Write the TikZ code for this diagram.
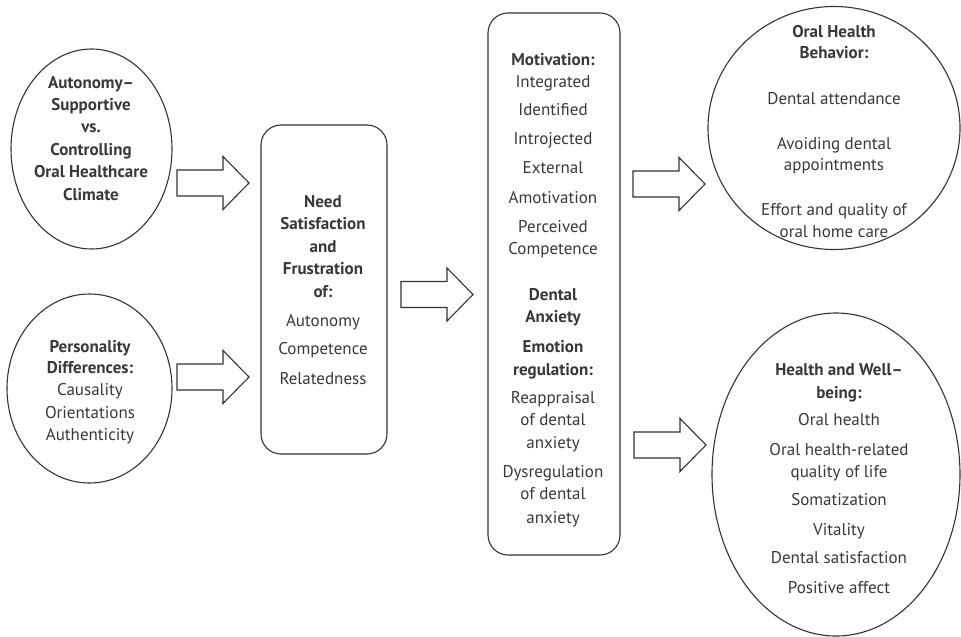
\documentclass[tikz,border=0pt]{standalone}
\usepackage{fontspec}
\setmainfont{PT Sans}
\usetikzlibrary{shapes.geometric}
\definecolor{ink}{HTML}{333333}
\definecolor{txt}{HTML}{383838}

\begin{document}
\begin{tikzpicture}[
  x=1pt, y=-1pt,
  outline/.style={draw=ink, line width=1.1pt},
  oval/.style={outline, ellipse, inner sep=0pt},
  panel/.style={outline, rectangle, rounded corners=20pt, inner sep=0pt},
  hd/.style={font=\bfseries\fontsize{17}{20}\selectfont, text=txt, anchor=base, inner sep=0pt},
  tx/.style={font=\fontsize{17}{20}\selectfont, text=txt, anchor=base, inner sep=0pt},
  pics/blockarrow/.style={code={
    \draw[outline, fill=white] (0,13) -- (46,13) -- (46,26.5) -- (72,0)
      -- (46,-26.5) -- (46,-13) -- (0,-13) -- cycle;}}
]
\useasboundingbox (0,0) rectangle (961,637);

% --- shapes ---
\node[oval, minimum width=161, minimum height=200] (climate) at (91.5,149) {};
\node[oval, minimum width=165, minimum height=189] (personality) at (89.5,388.5) {};
\node[panel, minimum width=126, minimum height=329] (needs) at (324,289.5) {};
\node[panel, minimum width=132, minimum height=542] (motivation) at (554,284) {};
\node[oval, minimum width=252, minimum height=243] (behavior) at (834,128) {};
\node[oval, minimum width=248, minimum height=323] (wellbeing) at (836,474.5) {};

% --- block arrows between the stages ---
\pic (arrowA) at (177,183) {blockarrow};
\pic (arrowB) at (177,377) {blockarrow};
\pic (arrowC) at (401,294.5) {blockarrow};
\pic (arrowD) at (633,184) {blockarrow};
\pic (arrowE) at (634,445) {blockarrow};

% --- climate ---
\foreach \t/\y [count=\i] in {Autonomy–/88, Supportive/110, vs./132,
    Controlling/155, Oral Healthcare/177, Climate/200}
  \node[hd] (climate-\i) at (91,\y) {\t};

% --- personality ---
\foreach \t/\y [count=\i] in {Personality/352, Differences:/373}
  \node[hd] (personality-h\i) at (90,\y) {\t};
\foreach \t/\y [count=\i] in {Causality/395, Orientations/418, Authenticity/440}
  \node[tx] (personality-\i) at (90,\y) {\t};

% --- need satisfaction ---
\foreach \t/\y [count=\i] in {Need/207, Satisfaction/229, and/252,
    Frustration/274, of:/297}
  \node[hd] (needs-h\i) at (323,\y) {\t};
\foreach \t/\y [count=\i] in {Autonomy/326, Competence/354, Relatedness/384}
  \node[tx] (needs-\i) at (323,\y) {\t};

% --- motivation, anxiety, emotion regulation ---
\node[hd] (motivation-h1) at (553,65) {Motivation:};
\foreach \t/\y [count=\i] in {Integrated/87, Identified/115, Introjected/144,
    External/173, Amotivation/203, Perceived/232, Competence/254}
  \node[tx] (motivation-\i) at (553,\y) {\t};
\foreach \t/\y [count=\i] in {Dental/300, Anxiety/322, Emotion/352, regulation:/375}
  \node[hd] (regulation-h\i) at (553,\y) {\t};
\foreach \t/\y [count=\i] in {Reappraisal/403, of dental/425, anxiety/448,
    Dysregulation/477, of dental/499, anxiety/523}
  \node[tx] (regulation-\i) at (553,\y) {\t};

% --- oral health behavior ---
\foreach \t/\y [count=\i] in {Oral Health/37, Behavior:/58}
  \node[hd] (behavior-h\i) at (834,\y) {\t};
\foreach \t/\y [count=\i] in {Dental attendance/104, Avoiding dental/149,
    appointments/170, Effort and quality of/215, oral home care/237}
  \node[tx] (behavior-\i) at (834,\y) {\t};

% --- health and well-being ---
\foreach \t/\y [count=\i] in {Health and Well–/375, being:/398}
  \node[hd] (wellbeing-h\i) at (839,\y) {\t};
\foreach \t/\y [count=\i] in {Oral health/425, Oral health-related/455,
    quality of life/477, Somatization/505, Vitality/535,
    Dental satisfaction/563, Positive affect/593}
  \node[tx] (wellbeing-\i) at (839,\y) {\t};
\end{tikzpicture}
\end{document}
